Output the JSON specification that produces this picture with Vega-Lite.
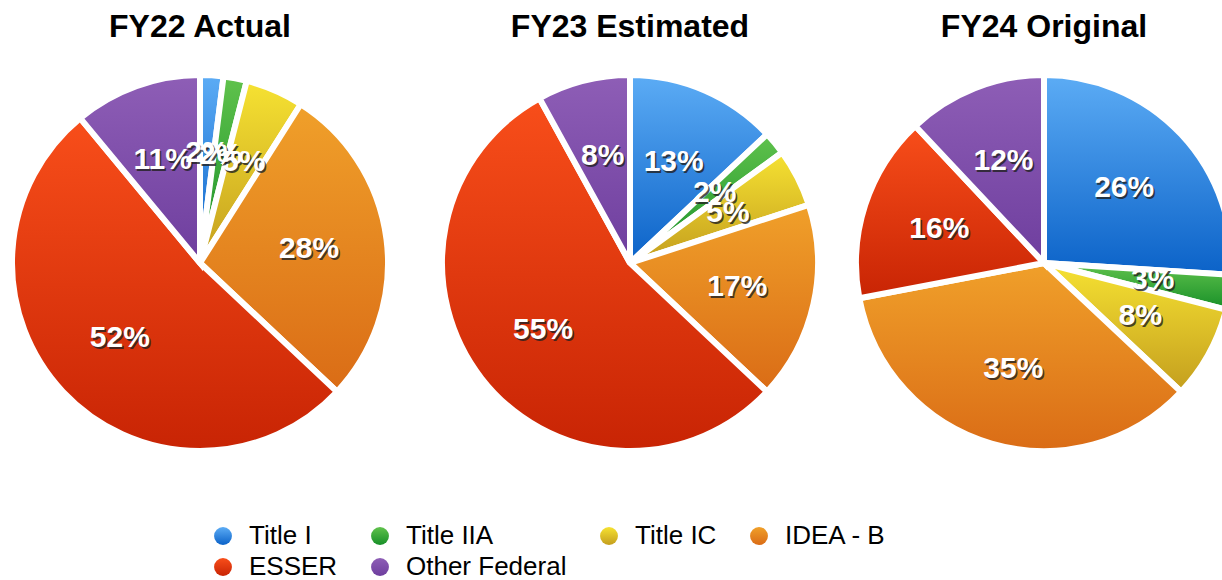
{
  "$schema": "https://vega.github.io/schema/vega-lite/v6.json",
  "padding": {"top": 11, "left": 0, "right": 0, "bottom": 0},
  "spacing": 0,
  "bounds": "flush",
  "background": "white",
  "config": {
    "view": {"stroke": null},
    "font": "Liberation Sans",
    "title": {"fontSize": 32, "fontWeight": "bold", "font": "Liberation Sans", "color": "#000", "offset": 15, "anchor": "middle"}
  },
  "data": {
    "values": [
      {"year": "FY22 Actual", "cat": "Title I", "pct": 0.02},
      {"year": "FY22 Actual", "cat": "Title IIA", "pct": 0.02},
      {"year": "FY22 Actual", "cat": "Title IC", "pct": 0.05},
      {"year": "FY22 Actual", "cat": "IDEA - B", "pct": 0.28},
      {"year": "FY22 Actual", "cat": "ESSER", "pct": 0.52},
      {"year": "FY22 Actual", "cat": "Other Federal", "pct": 0.11},
      {"year": "FY23 Estimated", "cat": "Title I", "pct": 0.13},
      {"year": "FY23 Estimated", "cat": "Title IIA", "pct": 0.02},
      {"year": "FY23 Estimated", "cat": "Title IC", "pct": 0.05},
      {"year": "FY23 Estimated", "cat": "IDEA - B", "pct": 0.17},
      {"year": "FY23 Estimated", "cat": "ESSER", "pct": 0.55},
      {"year": "FY23 Estimated", "cat": "Other Federal", "pct": 0.08},
      {"year": "FY24 Original", "cat": "Title I", "pct": 0.26},
      {"year": "FY24 Original", "cat": "Title IIA", "pct": 0.03},
      {"year": "FY24 Original", "cat": "Title IC", "pct": 0.08},
      {"year": "FY24 Original", "cat": "IDEA - B", "pct": 0.35},
      {"year": "FY24 Original", "cat": "ESSER", "pct": 0.16},
      {"year": "FY24 Original", "cat": "Other Federal", "pct": 0.12}
    ]
  },
  "transform": [
    {"calculate": "indexof(['Title I', 'Title IIA', 'Title IC', 'IDEA - B', 'ESSER', 'Other Federal'], datum.cat)", "as": "k"}
  ],
  "hconcat": [
    {
      "title": "FY22 Actual",
      "width": 392, "height": 408,
      "transform": [{"filter": "datum.year === 'FY22 Actual'"}],
      "encoding": {
        "theta": {"field": "pct", "type": "quantitative", "stack": true},
        "order": {"field": "k", "type": "quantitative", "sort": "ascending"},
        "detail": {"field": "cat", "type": "nominal"},
        "color": {
          "field": "cat", "type": "nominal",
          "sort": ["Title I", "Title IIA", "Title IC", "IDEA - B", "ESSER", "Other Federal"],
          "scale": {
            "domain": ["Title I", "Title IIA", "Title IC", "IDEA - B", "ESSER", "Other Federal"],
            "range": [
              {"expr": "{gradient: 'linear', x1: 0, y1: 0, x2: 0, y2: 1, stops: [{offset: 0, color: '#5cacf5'}, {offset: 1, color: '#0b62c8'}]}"},
              {"expr": "{gradient: 'linear', x1: 0, y1: 0, x2: 0, y2: 1, stops: [{offset: 0, color: '#60c24c'}, {offset: 1, color: '#178f28'}]}"},
              {"expr": "{gradient: 'linear', x1: 0, y1: 0, x2: 0, y2: 1, stops: [{offset: 0, color: '#f6e232'}, {offset: 1, color: '#c49e1e'}]}"},
              {"expr": "{gradient: 'linear', x1: 0, y1: 0, x2: 0, y2: 1, stops: [{offset: 0, color: '#f0a02a'}, {offset: 1, color: '#da6c16'}]}"},
              {"expr": "{gradient: 'linear', x1: 0, y1: 0, x2: 0, y2: 1, stops: [{offset: 0, color: '#f84e1a'}, {offset: 1, color: '#c82404'}]}"},
              {"expr": "{gradient: 'linear', x1: 0, y1: 0, x2: 0, y2: 1, stops: [{offset: 0, color: '#8e5eb6'}, {offset: 1, color: '#6e3e9e'}]}"}
            ]
          },
          "legend": {
            "orient": "none", "legendX": 206, "legendY": 464, "columns": 4, "direction": "horizontal",
            "title": null, "symbolType": "circle", "symbolSize": 320, "symbolStrokeWidth": 0,
            "labelFontSize": 26, "labelFont": "Liberation Sans", "labelColor": "#000",
            "columnPadding": 29, "rowPadding": 5, "labelOffset": 13, "padding": 0, "labelLimit": 300
          }
        }
      },
      "layer": [
        {"mark": {"type": "arc", "radius": 188, "stroke": "white", "strokeWidth": 6}},
        {"mark": {"type": "text", "radius": 110, "fontSize": 30, "fontWeight": "bold", "dx": 1.5, "dy": 2, "opacity": 0.8},
         "encoding": {"text": {"field": "pct", "type": "quantitative", "format": ".0%"}, "color": {"value": "#222"}}},
        {"mark": {"type": "text", "radius": 110, "fontSize": 30, "fontWeight": "bold"},
         "encoding": {"text": {"field": "pct", "type": "quantitative", "format": ".0%"}, "color": {"value": "white"}}}
      ]
    },
    {
      "title": "FY23 Estimated",
      "width": 468, "height": 408,
      "transform": [{"filter": "datum.year === 'FY23 Estimated'"}],
      "encoding": {
        "theta": {"field": "pct", "type": "quantitative", "stack": true},
        "order": {"field": "k", "type": "quantitative", "sort": "ascending"},
        "detail": {"field": "cat", "type": "nominal"},
        "color": {"field": "cat", "type": "nominal", "sort": ["Title I", "Title IIA", "Title IC", "IDEA - B", "ESSER", "Other Federal"]}
      },
      "layer": [
        {"mark": {"type": "arc", "radius": 188, "stroke": "white", "strokeWidth": 6}},
        {"mark": {"type": "text", "radius": 110, "fontSize": 30, "fontWeight": "bold", "dx": 1.5, "dy": 2, "opacity": 0.8},
         "encoding": {"text": {"field": "pct", "type": "quantitative", "format": ".0%"}, "color": {"value": "#222"}}},
        {"mark": {"type": "text", "radius": 110, "fontSize": 30, "fontWeight": "bold"},
         "encoding": {"text": {"field": "pct", "type": "quantitative", "format": ".0%"}, "color": {"value": "white"}}}
      ]
    },
    {
      "title": "FY24 Original",
      "width": 360, "height": 408,
      "transform": [{"filter": "datum.year === 'FY24 Original'"}],
      "encoding": {
        "theta": {"field": "pct", "type": "quantitative", "stack": true},
        "order": {"field": "k", "type": "quantitative", "sort": "ascending"},
        "detail": {"field": "cat", "type": "nominal"},
        "color": {"field": "cat", "type": "nominal", "sort": ["Title I", "Title IIA", "Title IC", "IDEA - B", "ESSER", "Other Federal"]}
      },
      "layer": [
        {"mark": {"type": "arc", "radius": 188, "stroke": "white", "strokeWidth": 6}},
        {"mark": {"type": "text", "radius": 110, "fontSize": 30, "fontWeight": "bold", "dx": 1.5, "dy": 2, "opacity": 0.8},
         "encoding": {"text": {"field": "pct", "type": "quantitative", "format": ".0%"}, "color": {"value": "#222"}}},
        {"mark": {"type": "text", "radius": 110, "fontSize": 30, "fontWeight": "bold"},
         "encoding": {"text": {"field": "pct", "type": "quantitative", "format": ".0%"}, "color": {"value": "white"}}}
      ]
    }
  ]
}
